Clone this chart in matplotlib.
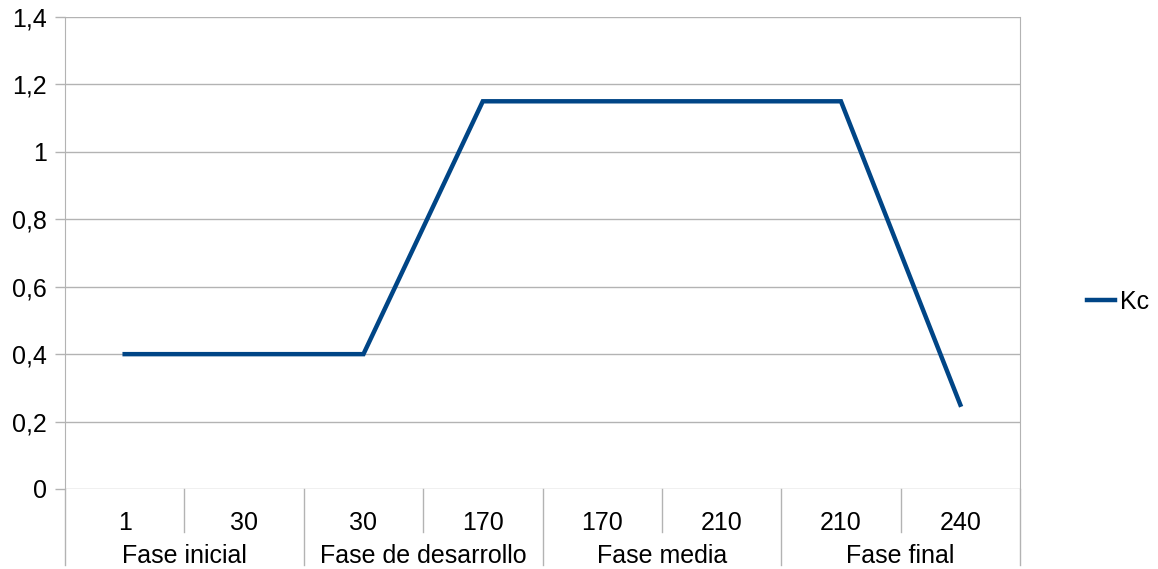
import matplotlib.pyplot as plt
import numpy as np

plt.rcParams['font.family'] = ['Liberation Sans', 'DejaVu Sans']

dias = ['1', '30', '30', '170', '170', '210', '210', '240']
fases = ['Fase inicial', 'Fase de desarrollo', 'Fase media', 'Fase final']
kc = [0.4, 0.4, 0.4, 1.15, 1.15, 1.15, 1.15, 0.25]
marcas_y = [0, 0.2, 0.4, 0.6, 0.8, 1, 1.2, 1.4]
textos_y = ['0', '0,2', '0,4', '0,6', '0,8', '1', '1,2', '1,4']

gris = '#b3b3b3'
W, H = 1158, 569
fig = plt.figure(figsize=(W / 100, H / 100), dpi=100)
ax = fig.add_axes([65 / W, 1 - 489 / H, (1020 - 65) / W, (489 - 17) / H])

x = np.arange(len(dias))
ax.plot(x, kc, color='#004586', lw=3.2, solid_joinstyle='miter', label='Kc')

ax.set_xlim(-0.5, len(dias) - 0.5)
ax.set_ylim(0, 1.4)
ax.set_yticks(marcas_y)
ax.set_yticklabels(textos_y)
ax.yaxis.grid(True, color=gris, lw=1)
ax.set_axisbelow(True)
ax.tick_params(axis='y', length=7, color=gris, width=1, labelsize=18, pad=6)

for s in ['top', 'bottom']:
    ax.spines[s].set_visible(False)
for s in ['left', 'right']:
    ax.spines[s].set_color(gris)

# etiquetas de categoría y separadores
ax.set_xticks([])
xt = ax.get_xaxis_transform()
px = 1 / (489 - 17)
for i, d in enumerate(dias):
    ax.text(i, -34 * px, d, transform=xt, ha='center', va='center', fontsize=18)
for b in range(len(dias) + 1):
    largo = 76 if b % 2 == 0 else 43
    ax.plot([b - 0.5, b - 0.5], [0, -largo * px], transform=xt, color=gris,
            lw=1, clip_on=False)
for j, f in enumerate(fases):
    ax.text(2 * j + 0.5, -67 * px, f, transform=xt, ha='center', va='center',
            fontsize=18)

fig.legend(loc='center left', bbox_to_anchor=(1077 / W, 1 - 302 / H),
           frameon=False, fontsize=18, handlelength=1.1, handletextpad=0.2,
           borderaxespad=0)

fig.savefig('out.png', dpi=100)
